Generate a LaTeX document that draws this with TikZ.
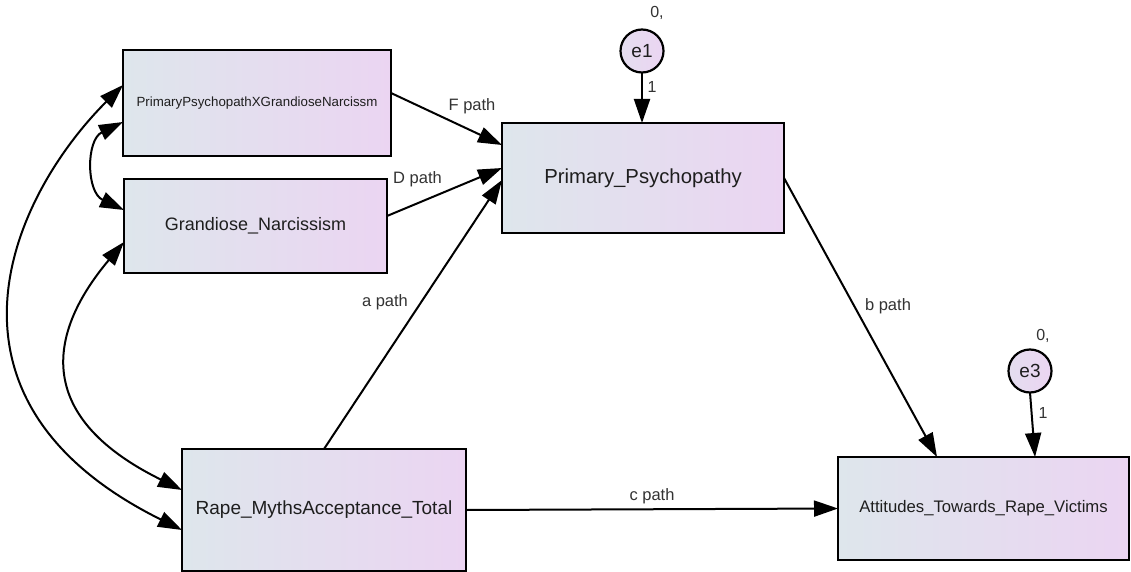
\documentclass[tikz,border=0pt]{standalone}
\usepackage{fontspec}
\setmainfont{Liberation Sans}
\usetikzlibrary{arrows.meta,calc}
\definecolor{boxL}{HTML}{DEE6EC}
\definecolor{boxR}{HTML}{EBD5F2}
\definecolor{txt}{HTML}{1E1E1E}
\definecolor{lbl}{HTML}{333333}
\begin{document}
\begin{tikzpicture}[x=1pt,y=-1pt,
 var/.style={draw=black, line width=2.4pt, left color=boxL, right color=boxR, rectangle, inner sep=0pt, outer sep=0pt, text=txt},
 err/.style={draw=black, line width=2.2pt, left color=boxL!50!boxR, right color=boxR, circle, minimum size=43pt, inner sep=0pt, outer sep=0pt, text=txt, font=\fontsize{19}{19}\selectfont},
 conn/.style={line width=2pt, -{Triangle[length=24pt,width=16pt]}},
 biconn/.style={line width=2pt, {Triangle[length=24pt,width=16pt]}-{Triangle[length=24pt,width=16pt]}},
 lab/.style={text=lbl, font=\fontsize{16.5}{17}\selectfont, inner sep=0pt},
 small/.style={text=lbl, font=\fontsize{16}{16}\selectfont, inner sep=0pt},
]
\useasboundingbox (0,0) rectangle (1131,572);
\fill[white] (0,0) rectangle (1131,572);

% variables
\node[var, minimum width=268pt, minimum height=106pt, font=\fontsize{13.3}{14}\selectfont] (PX) at (257,103) {PrimaryPsychopathXGrandioseNarcissm};
\node[var, minimum width=263pt, minimum height=94pt, font=\fontsize{18}{18}\selectfont] (GN) at (255.5,226) {Grandiose\_Narcissism};
\node[var, minimum width=282pt, minimum height=110pt, font=\fontsize{20.3}{20}\selectfont] (PP) at (643,178) {Primary\_Psychopathy};
\node[var, minimum width=284pt, minimum height=122pt, font=\fontsize{19}{19}\selectfont] (RMA) at (324,510) {Rape\_MythsAcceptance\_Total};
\node[var, minimum width=291pt, minimum height=103pt, font=\fontsize{16.7}{17}\selectfont] (ATRV) at (983.5,508.5) {Attitudes\_Towards\_Rape\_Victims};

% errors
\node[err] (e1) at (642,51) {e1};
\node[err] (e3) at (1030,371) {e3};
\node[small] (z1) at (657,13) {0,};
\node[small] (z3) at (1043,336) {0,};

% directed paths
\draw[conn] ([yshift=10pt]PX.east) -- ([yshift=33pt]PP.west);
\node[lab] (Fl) at (472,106) {F path};
\draw[conn] ([yshift=10pt]GN.east) -- ([yshift=10pt]PP.west);
\node[lab] (Dl) at (417.5,179) {D path};
\draw[conn] (RMA.north) -- ([yshift=-2pt]PP.west);
\node[lab] (al) at (385,302) {a path};
\draw[conn] (PP.east) -- ([xshift=-46.5pt]ATRV.north);
\node[lab] (bl) at (888,306) {b path};
\draw[conn] (RMA.east) -- (ATRV.west);
\node[lab] (cl) at (652,496) {c path};
\draw[conn] (e1.south) -- (PP.north -| e1.south);
\node[small] (o1) at (652,87) {1};
\draw[conn] (e3.south) -- ([xshift=51.5pt]ATRV.north);
\node[small] (o3) at (1043,413) {1};

% covariances
\draw[biconn] ([yshift=-19pt]PX.west) .. controls (86,140) and (86,192) .. ([yshift=16pt]GN.west);
\draw[biconn] ([yshift=18pt]PX.west) .. controls (10,198) and (-80,400) .. ([yshift=-20pt]RMA.west);
\draw[biconn] ([yshift=-16pt]GN.west) .. controls (50,330) and (30,415) .. ([yshift=20pt]RMA.west);
\end{tikzpicture}
\end{document}
